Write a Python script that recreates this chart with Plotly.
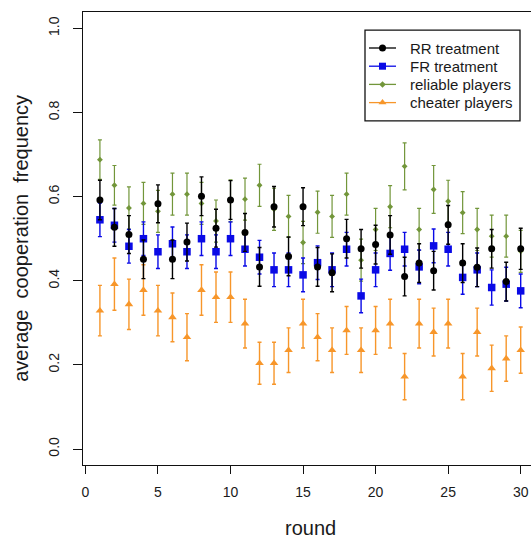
import plotly.graph_objects as go

rounds = list(range(1, 31))

rr_treatment = [0.592, 0.527, 0.510, 0.451, 0.583, 0.451, 0.492, 0.601, 0.525, 0.592,
                0.515, 0.433, 0.576, 0.458, 0.576, 0.433, 0.419, 0.500, 0.476, 0.486,
                0.509, 0.410, 0.442, 0.424, 0.533, 0.442, 0.432, 0.476, 0.398, 0.476]
rr_err = [0.047, 0.045, 0.045, 0.046, 0.045, 0.046, 0.045, 0.046, 0.045, 0.046,
          0.045, 0.046, 0.048, 0.046, 0.045, 0.046, 0.045, 0.046, 0.046, 0.046,
          0.046, 0.046, 0.046, 0.046, 0.046, 0.046, 0.046, 0.046, 0.046, 0.049]

fr_treatment = [0.545, 0.532, 0.482, 0.500, 0.469, 0.488, 0.469, 0.500, 0.469, 0.500,
                0.475, 0.456, 0.426, 0.426, 0.414, 0.443, 0.426, 0.475, 0.364, 0.426,
                0.465, 0.475, 0.433, 0.483, 0.475, 0.408, 0.426, 0.384, 0.392, 0.376]
fr_err = [0.040, 0.040, 0.040, 0.040, 0.040, 0.040, 0.040, 0.040, 0.040, 0.040,
          0.040, 0.040, 0.040, 0.040, 0.040, 0.040, 0.040, 0.040, 0.040, 0.040,
          0.040, 0.040, 0.040, 0.040, 0.040, 0.040, 0.040, 0.042, 0.040, 0.040]

reliable = [0.688, 0.627, 0.573, 0.584, 0.565, 0.606, 0.606, 0.584, 0.542, 0.590,
            0.594, 0.627, 0.570, 0.553, 0.491, 0.563, 0.553, 0.606, 0.449, 0.522,
            0.576, 0.672, 0.522, 0.617, 0.589, 0.562, 0.522, 0.506, 0.506, 0.470]
reliable_err = [0.047, 0.047, 0.050, 0.050, 0.050, 0.050, 0.050, 0.050, 0.050, 0.050,
                0.050, 0.050, 0.050, 0.050, 0.050, 0.050, 0.050, 0.050, 0.050, 0.050,
                0.050, 0.056, 0.050, 0.057, 0.050, 0.050, 0.050, 0.050, 0.050, 0.050]

cheater = [0.329, 0.392, 0.344, 0.378, 0.329, 0.313, 0.266, 0.378, 0.361, 0.361,
           0.298, 0.204, 0.204, 0.235, 0.298, 0.266, 0.235, 0.282, 0.235, 0.282,
           0.298, 0.172, 0.298, 0.278, 0.298, 0.172, 0.278, 0.192, 0.215, 0.235]
cheater_err = [0.060, 0.062, 0.060, 0.060, 0.060, 0.058, 0.056, 0.060, 0.060, 0.060,
               0.058, 0.050, 0.050, 0.053, 0.058, 0.056, 0.053, 0.057, 0.053, 0.057,
               0.058, 0.055, 0.058, 0.057, 0.058, 0.055, 0.057, 0.055, 0.054, 0.055]

x_ticks = [0, 5, 10, 15, 20, 25, 30]
y_ticks = [0.0, 0.2, 0.4, 0.6, 0.8, 1.0]
y_ticklabels = ["0.0", "0.2", "0.4", "0.6", "0.8", "1.0"]

legend_names = ["RR treatment", "FR treatment", "reliable players", "cheater players"]

BLACK = "#000000"
BLUE = "#0a0ae6"
GREEN = "#72963a"
ORANGE = "#f7962a"
TEXT = "#1a1a1a"

series = [
    ("reliable players", reliable, reliable_err, GREEN, "diamond", 4.5, 1.2),
    ("cheater players", cheater, cheater_err, ORANGE, "triangle-up", 7.5, 1.4),
    ("FR treatment", fr_treatment, fr_err, BLUE, "square", 7.5, 1.4),
    ("RR treatment", rr_treatment, rr_err, BLACK, "circle", 7, 1.4),
]

fig = go.Figure()
for name, vals, errs, col, sym, sz, th in series:
    fig.add_trace(go.Scatter(
        x=rounds, y=vals, mode="markers", name=name, showlegend=False,
        marker=dict(color=col, symbol=sym, size=sz, line=dict(width=0)),
        error_y=dict(type="data", array=errs, visible=True, color=col,
                     thickness=th, width=2),
    ))

# Hand-built legend box (R-style, tight rows) on a hidden pixel-scaled overlay axis
leg_style = {
    "RR treatment": (BLACK, "circle", 7),
    "FR treatment": (BLUE, "square", 7),
    "reliable players": (GREEN, "diamond", 5),
    "cheater players": (ORANGE, "triangle-up", 7),
}
LEG_LEFT, LEG_RIGHT, LEG_TOP, LEG_BOTTOM = 365, 520, 30.2, 120.8
ROW0, ROW_STEP = 48.0, 18.2
LINE_X0, LINE_X1, TEXT_X = 369, 396, 408

annotations = []
for i, name in enumerate(legend_names):
    col, sym, sz = leg_style[name]
    ry = ROW0 + i * ROW_STEP
    fig.add_trace(go.Scatter(
        x=[LINE_X0, LINE_X1], y=[ry, ry], mode="lines", xaxis="x2", yaxis="y2",
        line=dict(color=col, width=1.3), showlegend=False, hoverinfo="skip",
    ))
    fig.add_trace(go.Scatter(
        x=[(LINE_X0 + LINE_X1) / 2], y=[ry], mode="markers", xaxis="x2", yaxis="y2",
        marker=dict(color=col, symbol=sym, size=sz), showlegend=False, hoverinfo="skip",
    ))
    annotations.append(dict(
        text=name, xref="x2", yref="y2", x=TEXT_X, y=ry,
        xanchor="left", yanchor="middle", showarrow=False,
        font=dict(size=15, color=TEXT),
    ))

annotations += [
    dict(text="round", xref="paper", yref="paper", x=0.507, y=-0.140,
         xanchor="center", yanchor="middle", showarrow=False,
         font=dict(size=20, color=TEXT)),
    dict(text="average\u00a0 cooperation\u00a0 frequency", xref="paper", yref="paper",
         x=-0.140, y=0.5, xanchor="center", yanchor="middle", textangle=-90,
         showarrow=False, font=dict(size=20, color=TEXT)),
]

fig.update_layout(
    width=531, height=538,
    margin=dict(l=83, r=0, t=12, b=73),
    plot_bgcolor="white", paper_bgcolor="white",
    font=dict(family="Liberation Sans, Arial, sans-serif", color=TEXT),
    showlegend=False,
    xaxis=dict(
        range=[-0.166, 30.71], tickmode="array", tickvals=x_ticks,
        showgrid=False, zeroline=False,
        showline=True, linecolor="#111111", linewidth=1.3, mirror=True,
        ticks="outside", ticklen=8, tickwidth=1.3, tickcolor="#111111",
        tickfont=dict(size=14), ticklabelstandoff=6,
    ),
    yaxis=dict(
        range=[-0.038, 1.039], tickmode="array", tickvals=y_ticks,
        ticktext=y_ticklabels, tickangle=-90,
        showgrid=False, zeroline=False,
        showline=True, linecolor="#111111", linewidth=1.3, mirror=False,
        ticks="outside", ticklen=9, tickwidth=1.3, tickcolor="#111111",
        tickfont=dict(size=14), ticklabelstandoff=8,
    ),
    xaxis2=dict(overlaying="x", range=[83, 531], visible=False, fixedrange=True),
    yaxis2=dict(overlaying="y", range=[465, 12], visible=False, fixedrange=True),
    shapes=[dict(type="rect", xref="x2", yref="y2", x0=LEG_LEFT, x1=LEG_RIGHT,
                 y0=LEG_TOP, y1=LEG_BOTTOM, line=dict(color="#111111", width=1.3),
                 fillcolor="white", layer="below")],
    annotations=annotations,
)

fig.write_html("out.html")
